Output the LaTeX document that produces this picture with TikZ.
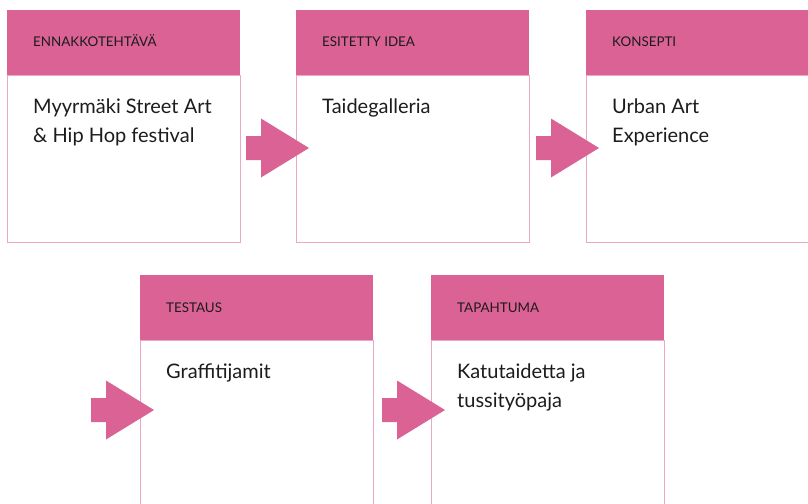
\documentclass[tikz,border=0pt]{standalone}
\usepackage{fontspec}
\setmainfont{Lato}
\usetikzlibrary{positioning,calc}

\definecolor{headpink}{RGB}{219,98,149}
\definecolor{linepink}{RGB}{236,166,198}
\definecolor{inkdark}{RGB}{28,28,28}

\tikzset{
  headbox/.style={fill=headpink, minimum width=233pt, minimum height=65pt, inner sep=0pt, outer sep=0pt, anchor=north west},
  bodybox/.style={draw=linepink, line width=1pt, minimum width=233pt, inner sep=0pt, outer sep=0pt},
  headtext/.style={font=\fontsize{13.4}{15}\selectfont, text=inkdark, anchor=base west, inner sep=0pt},
  bodytext/.style={font=\fontsize{20}{29}\selectfont, text=inkdark, align=left, anchor=base west, inner sep=0pt},
  pics/flowarrow/.style={code={
    \fill[headpink] (0,0) -- (-48,-29.5) -- (-48,-12) -- (-63,-12) -- (-63,12) -- (-48,12) -- (-48,29.5) -- cycle;
  }}
}

\begin{document}
\begin{tikzpicture}[x=1pt, y=-1pt]
        \useasboundingbox (0,0) rectangle (808,503);

        % top row
        \node[headbox] (head1) at (7,10) {};
        \node[bodybox, minimum height=167pt, below=0pt of head1] (body1) {};
        \node[headbox] (head2) at (296,10) {};
        \node[bodybox, minimum height=167pt, below=0pt of head2] (body2) {};
        \node[headbox] (head3) at (586,10) {};
        \node[bodybox, minimum height=167pt, below=0pt of head3] (body3) {};

        % bottom row
        \node[headbox] (head4) at (140,275) {};
        \node[bodybox, minimum height=190pt, below=0pt of head4] (body4) {};
        \node[headbox] (head5) at (431,275) {};
        \node[bodybox, minimum height=190pt, below=0pt of head5] (body5) {};

        % labels
        \node[headtext] (label1) at ($(head1.north west)+(26,37)$) {ENNAKKOTEHTÄVÄ};
        \node[headtext] (label2) at ($(head2.north west)+(26,37)$) {ESITETTY IDEA};
        \node[headtext] (label3) at ($(head3.north west)+(26,37)$) {KONSEPTI};
        \node[headtext] (label4) at ($(head4.north west)+(26,37)$) {TESTAUS};
        \node[headtext] (label5) at ($(head5.north west)+(26,37)$) {TAPAHTUMA};

        % base anchor sits on the last line
        \node[bodytext] (text1) at ($(head1.north west)+(26,132)$) {Myyrmäki Street Art\\\& Hip Hop festival};
        \node[bodytext] (text2) at ($(head2.north west)+(26,103)$) {Taidegalleria};
        \node[bodytext] (text3) at ($(head3.north west)+(26,132)$) {Urban Art\\Experience};
        \node[bodytext] (text4) at ($(head4.north west)+(26,103)$) {Graffitijamit};
        \node[bodytext] (text5) at ($(head5.north west)+(26,132)$) {Katutaidetta ja\\tussityöpaja};

        % arrows
        \coordinate (tip1) at ($(head2.north west)+(13,138)$);
        \coordinate (tip2) at ($(head3.north west)+(13,138)$);
        \coordinate (tip3) at ($(head4.north west)+(14,135)$);
        \coordinate (tip4) at ($(head5.north west)+(14,135)$);
        \pic at (tip1) {flowarrow};
        \pic at (tip2) {flowarrow};
        \pic at (tip3) {flowarrow};
        \pic at (tip4) {flowarrow};
\end{tikzpicture}
\end{document}
